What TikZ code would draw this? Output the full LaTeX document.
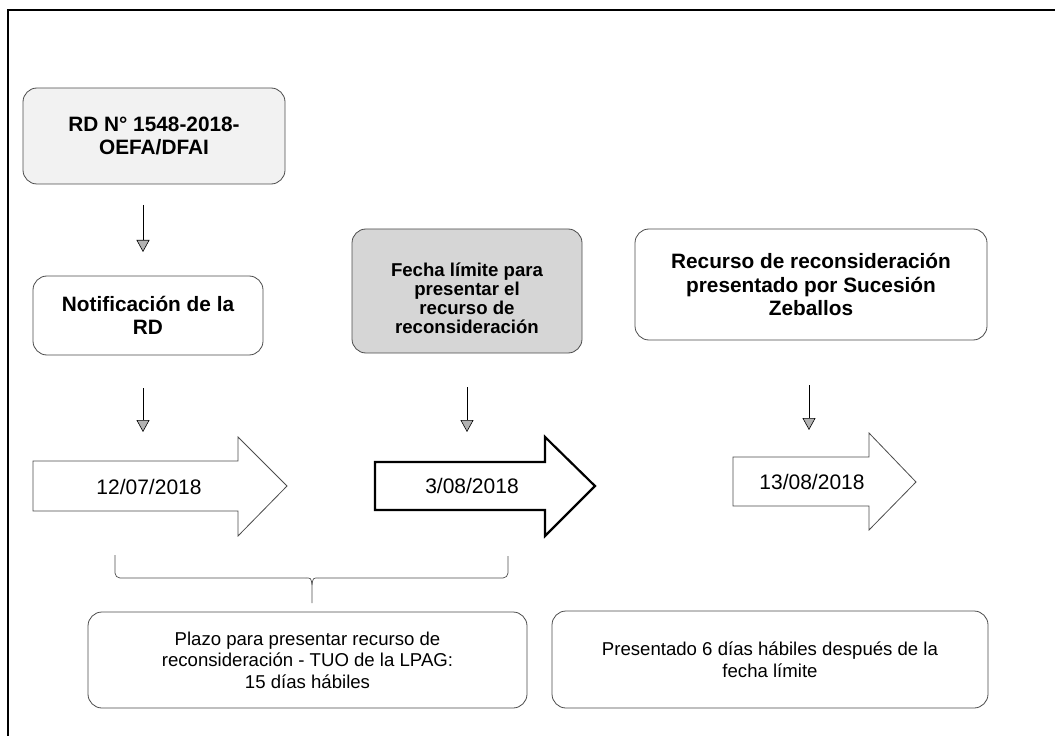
\documentclass[tikz,border=0pt]{standalone}
\usepackage{fontspec}
\setmainfont{Liberation Sans}
\usepackage{tikz}
\usetikzlibrary{arrows.meta,calc,positioning}

\begin{document}
\begin{tikzpicture}[x=1pt,y=-1pt]
	\tikzstyle{every node} = [align=center, inner sep=0pt]
	\tikzstyle{box} = [draw=black!70, line width=0.8pt, rounded corners=14pt, fill=white]
	\tikzstyle{title} = [font=\bfseries\fontsize{20.8}{23.5}\selectfont]
	\tikzstyle{note} = [font=\fontsize{18.6}{21.5}\selectfont]
	\tikzstyle{date} = [font=\fontsize{21}{25}\selectfont]
	\tikzstyle{datearrow} = [draw=black!70, line width=0.8pt, fill=white]
	\tikzstyle{flow} = [draw, line width=0.6pt, -{Triangle[width=13pt,length=12pt,fill=gray!60]}]
\useasboundingbox (0,0) rectangle (1055,746);
\path[draw, line width=1.4pt] (1055,10) -- (8,10) -- (8,736);
% boxes on top
\node[box, title, fill=gray!10, minimum width=262, minimum height=96] (rd) at (154,136) {RD N° 1548-2018-\\OEFA/DFAI};
\node[box, title, minimum width=230, minimum height=79] (notif) at (148,315.5) {Notificación de la\\RD};
\node[box, fill=gray!32, font=\bfseries\fontsize{18.6}{17.7}\selectfont, minimum width=230, minimum height=124] (limite) at (467,291) {\raisebox{-10pt}[\height][\depth]{\begin{tabular}{@{}c@{}}Fecha límite para\\presentar el\\recurso de\\reconsideración\end{tabular}}};
\node[box, title, minimum width=352, minimum height=111] (recurso) at (811,284.5) {Recurso de reconsideración\\presentado por Sucesión\\Zeballos};
% down arrows
\coordinate (a1s) at (143,205);
\coordinate (a1e) at (143,252);
\coordinate (a2s) at (143,388);
\coordinate (a2e) at (143,432);
\coordinate (a3s) at (467,387);
\coordinate (a3e) at (467,432);
\coordinate (a4s) at (809,385);
\coordinate (a4e) at (809,430);
	\path[flow] (a1s) -- (a1e);
	\path[flow] (a2s) -- (a2e);
	\path[flow] (a3s) -- (a3e);
	\path[flow] (a4s) -- (a4e);
% dates
\path[datearrow] (33,461) -- (238,461) -- (238,437) -- (287,486) -- (238,536) -- (238,511) -- (33,511) -- cycle;
\node[date] (d1) at (149,487) {12/07/2018};
\path[datearrow, draw=black, line width=2.2pt] (375,462) -- (545,462) -- (545,437) -- (595,486) -- (545,536) -- (545,510) -- (375,510) -- cycle;
\node[date] (d2) at (472,486) {3/08/2018};
\path[datearrow] (733,457) -- (869,457) -- (869,433) -- (916,482) -- (869,530) -- (869,506) -- (733,506) -- cycle;
\node[date] (d3) at (812,482) {13/08/2018};
% brace
\path[draw, black!70, line width=0.7pt, rounded corners=5pt] (115,555) -- (115,578) -- (306,578);
\path[draw, black!70, line width=0.7pt, rounded corners=5pt] (508,556) -- (508,578) -- (318,578);
\path[draw, black!70, line width=0.7pt] (306,578) .. controls (311,578) .. (312,585) -- (312,603);
\path[draw, black!70, line width=0.7pt] (318,578) .. controls (313,578) .. (312,585);
% bottom notes
\node[box, note, minimum width=439, minimum height=96] (plazo) at (307.5,660) {Plazo para presentar recurso de\\reconsideración - TUO de la LPAG:\\15 días hábiles};
\node[box, note, minimum width=436, minimum height=97] (despues) at (770,659.5) {Presentado 6 días hábiles después de la\\fecha límite};
\end{tikzpicture}
\end{document}
